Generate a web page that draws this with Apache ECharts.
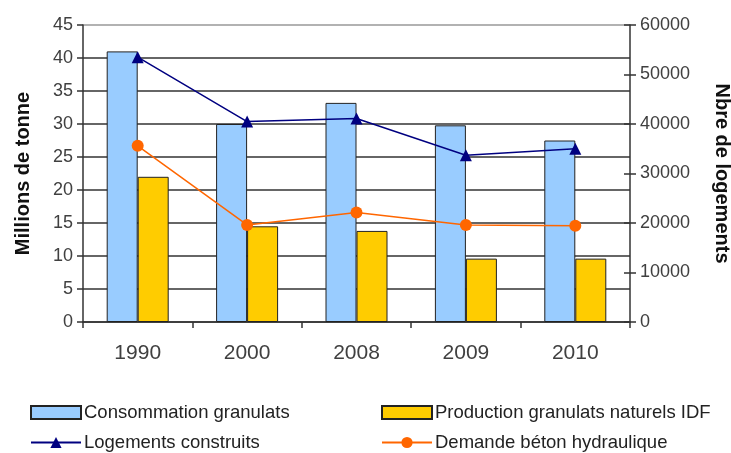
<!DOCTYPE html>
<html>
<head>
<meta charset="utf-8">
<script src="https://cdn.jsdelivr.net/npm/echarts@6/dist/echarts.min.js"></script>
<style>
html,body{margin:0;padding:0;background:#fff;}
#c{width:731px;height:453px;}
</style>
</head>
<body>
<div id="c"></div>
<script>
var categories = ['1990', '2000', '2008', '2009', '2010'];
var consommation = [41, 30, 33.2, 29.8, 27.5];
var production = [22, 14.5, 13.8, 9.6, 9.6];
var logements = [53500, 40500, 41100, 33700, 35000];
var demandeBeton = [26.7, 14.7, 16.6, 14.7, 14.6];
var leftTicks = [0, 45, 5];
var rightTicks = [0, 60000, 10000];

var chart = echarts.init(document.getElementById('c'), null, {renderer: 'canvas'});
var font = 'Liberation Sans, Arial, sans-serif';
var txt = '#404040';

function legendItem(name, left, top, icon, sw, sh) {
  return {
    data: [name], left: left, top: top, orient: 'horizontal',
    itemWidth: sw, itemHeight: sh, itemGap: 0, padding: 0,
    icon: icon,
    textStyle: {fontFamily: font, fontSize: 18.5, color: '#222', padding: [0, 0, 0, -2]},
    selectedMode: false
  };
}

var option = {
  animation: false,
  backgroundColor: '#fff',
  grid: {left: 83, right: 101, top: 25, bottom: 131, containLabel: false, outerBoundsMode: 'none'},
  legend: [
    legendItem('Consommation granulats', 30, 403, 'rect', 50, 13),
    legendItem('Production granulats naturels IDF', 381, 403, 'rect', 50, 13),
    legendItem('Logements construits', 30, 433, null, 50, 14),
    legendItem('Demande béton hydraulique', 381, 433, null, 50, 14)
  ],
  xAxis: {
    type: 'category',
    data: categories,
    boundaryGap: true,
    axisLine: {show: true, lineStyle: {color: '#333', width: 1.5}},
    axisTick: {show: true, length: 6, alignWithLabel: false, lineStyle: {color: '#333', width: 1.5}},
    axisLabel: {fontFamily: font, fontSize: 21, color: txt, margin: 21},
    splitLine: {show: false}
  },
  yAxis: [
    {
      type: 'value', position: 'left',
      min: leftTicks[0], max: leftTicks[1], interval: leftTicks[2],
      name: 'Millions de tonne', nameLocation: 'middle', nameGap: 50, nameRotate: 90,
      nameTextStyle: {fontFamily: font, fontSize: 20, fontWeight: 'bold', color: '#111'},
      axisLine: {show: true, lineStyle: {color: '#333', width: 1.5}},
      axisTick: {show: true, length: 6, lineStyle: {color: '#333', width: 1.5}},
      axisLabel: {fontFamily: font, fontSize: 18, color: txt, margin: 10},
      splitLine: {show: true, lineStyle: {width: 1.5,
        color: ['#333', '#333', '#333', '#333', '#333', '#333', '#333', '#333', '#333', '#999']}}
    },
    {
      type: 'value', position: 'right',
      min: rightTicks[0], max: rightTicks[1], interval: rightTicks[2],
      name: 'Nbre de logements', nameLocation: 'middle', nameGap: 82, nameRotate: -90,
      nameTextStyle: {fontFamily: font, fontSize: 20, fontWeight: 'bold', color: '#111'},
      axisLine: {show: true, lineStyle: {color: '#333', width: 1.5}},
      axisTick: {show: true, length: 6, lineStyle: {color: '#333', width: 1.5}},
      axisLabel: {fontFamily: font, fontSize: 18, color: txt, margin: 10,
        formatter: function (v) { return String(v); }},
      splitLine: {show: false}
    },
    {
      type: 'value', position: 'right',
      min: rightTicks[0], max: rightTicks[1], interval: rightTicks[2],
      axisLine: {show: false},
      axisTick: {show: true, inside: true, length: 6, lineStyle: {color: '#333', width: 1.5}},
      axisLabel: {show: false},
      splitLine: {show: false}
    }
  ],
  series: [
    {
      name: 'Consommation granulats', type: 'bar', yAxisIndex: 0,
      data: consommation, barWidth: 31, barGap: '0%',
      itemStyle: {color: '#99CCFF', borderColor: '#222', borderWidth: 1}
    },
    {
      name: 'Production granulats naturels IDF', type: 'bar', yAxisIndex: 0,
      data: production, barWidth: 31, barGap: '0%',
      itemStyle: {color: '#FFCC00', borderColor: '#222', borderWidth: 1}
    },
    {
      name: 'Logements construits', type: 'line', yAxisIndex: 1,
      data: logements, symbol: 'triangle', symbolSize: 12,
      lineStyle: {color: '#000080', width: 1.5},
      itemStyle: {color: '#000080'}, z: 5
    },
    {
      name: 'Demande béton hydraulique', type: 'line', yAxisIndex: 0,
      data: demandeBeton, symbol: 'circle', symbolSize: 12,
      lineStyle: {color: '#FF6600', width: 1.5},
      itemStyle: {color: '#FF6600'}, z: 5
    }
  ]
};
chart.setOption(option);
</script>
</body>
</html>
